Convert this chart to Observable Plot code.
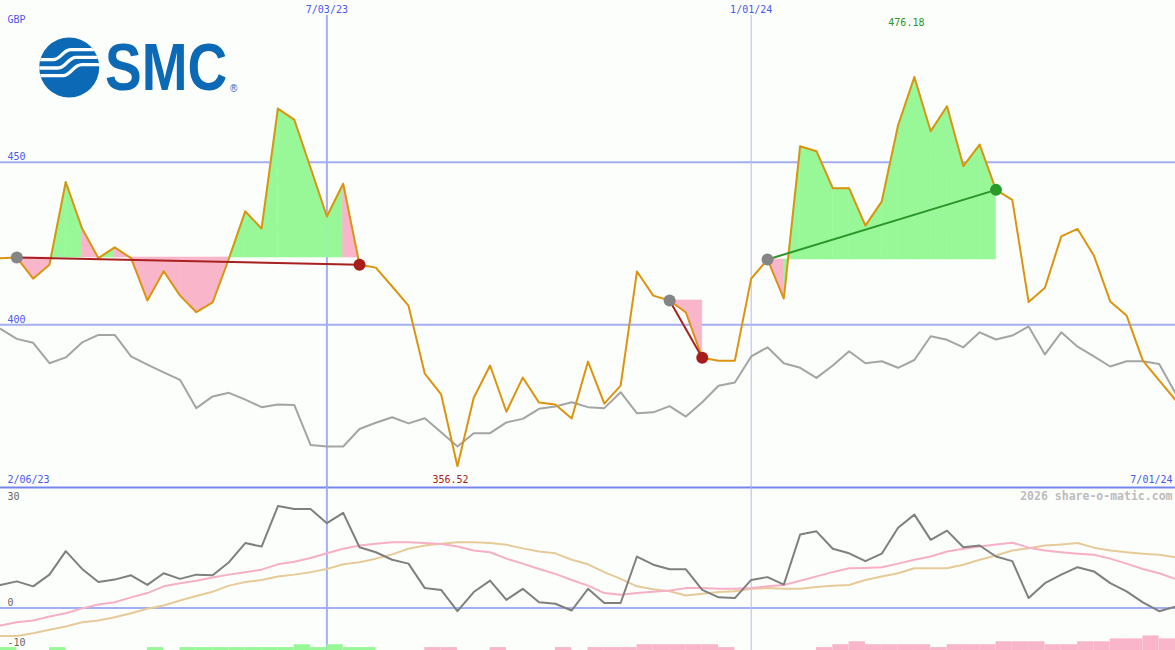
<!DOCTYPE html>
<html><head><meta charset="utf-8">
<script src="https://cdn.jsdelivr.net/npm/d3@7"></script>
<script src="https://cdn.jsdelivr.net/npm/@observablehq/plot@0.6"></script>
<style>
html,body{margin:0;padding:0;background:#fcfefc;}
#chart{position:relative;width:1175px;height:650px;overflow:hidden;background:#fcfefc;}
#chart svg.plot{display:block;}
#logo{position:absolute;left:30px;top:30px;}
</style></head><body>
<div id="chart"></div>
<script>
// ---- data (weekly closes) ----
const firstWeek = [2023, 1, 13]; // year, month index, day
const price = [
  420.5, 420.7, 414.2, 418.5, 443.9, 429.6, 420.5, 423.8, 420.5, 407.5,
  416.5, 409.0, 403.9, 406.9, 420.4, 434.9, 429.6, 466.5, 463.1, 448.3,
  433.3, 443.4, 418.5, 417.6, 411.8, 405.9, 385.0, 378.6, 356.52, 377.6,
  387.5, 373.3, 383.8, 376.1, 375.5, 371.2, 388.7, 375.8, 381.3, 416.4,
  409.0, 407.5, 403.8, 389.9, 389.0, 389.0, 414.2, 420.1, 408.1, 454.9,
  453.4, 442.0, 442.0, 430.5, 437.9, 461.3, 476.18, 459.5, 467.2, 448.8,
  455.4, 441.5, 438.4, 407.0, 411.4, 427.2, 429.5, 421.3, 407.2, 402.9,
  389.0, 382.9, 376.9
];
const benchmark = [
  398.8, 395.7, 394.5, 388.2, 390.0, 394.6, 396.9, 396.9, 390.3, 387.8,
  385.4, 383.1, 374.4, 378.0, 379.1, 377.0, 374.7, 375.5, 375.4, 363.1,
  362.6, 362.6, 368.0, 369.9, 371.6, 369.7, 371.3, 367.0, 362.6, 366.7,
  366.7, 370.0, 371.1, 374.2, 374.9, 376.2, 374.7, 374.4, 379.3, 372.8,
  373.1, 375.0, 371.8, 376.2, 381.3, 382.3, 390.3, 393.1, 388.2, 386.8,
  383.7, 387.5, 391.9, 388.2, 388.8, 386.8, 389.2, 396.5, 395.4, 393.1,
  397.7, 395.5, 396.7, 399.5, 390.9, 397.7, 393.3, 390.3, 387.2, 388.8,
  388.8, 388.0, 379.0
];
const momentum = [
  6.5, 7.5, 6.1, 9.4, 16.0, 11.0, 7.3, 8.0, 9.2, 6.5,
  9.8, 8.2, 9.4, 9.2, 12.9, 18.3, 17.3, 28.7, 27.9, 27.9,
  23.9, 26.8, 17.1, 15.7, 13.6, 12.5, 5.6, 5.1, -0.9, 4.5,
  7.7, 2.3, 5.4, 1.6, 1.2, -0.7, 5.4, 1.4, 1.4, 14.5,
  12.2, 10.9, 10.9, 5.1, 3.0, 2.8, 7.9, 8.7, 6.6, 20.7,
  21.6, 16.7, 15.4, 13.2, 15.3, 22.6, 26.3, 19.2, 21.8, 17.1,
  17.6, 14.5, 13.2, 2.8, 7.0, 9.4, 11.5, 10.3, 7.0, 4.7,
  1.6, -0.9, 0.4
];
const avgFast = [
  -4.9, -4.0, -3.5, -2.4, -1.5, -0.1, 1.0, 1.6, 3.0, 4.2,
  6.1, 7.0, 7.7, 8.6, 9.4, 10.1, 10.8, 12.3, 13.0, 14.1,
  15.4, 16.7, 17.6, 18.1, 18.5, 18.5, 18.3, 18.0, 17.3, 16.2,
  15.7, 13.9, 12.5, 11.0, 9.6, 7.9, 6.3, 4.2, 3.7, 4.2,
  4.6, 4.9, 5.6, 5.6, 5.4, 5.4, 5.6, 6.1, 6.5, 7.7,
  8.9, 10.1, 11.2, 11.3, 11.5, 12.5, 13.6, 14.5, 15.9, 16.7,
  17.3, 17.9, 18.4, 17.0, 16.2, 15.7, 15.3, 15.0, 13.9, 12.5,
  11.0, 9.8, 8.2
];
const avgSlow = [
  -7.9, -7.9, -7.1, -6.1, -5.2, -4.0, -3.5, -2.6, -1.5, -0.2,
  0.7, 2.1, 3.4, 4.6, 6.3, 7.3, 7.9, 8.9, 9.4, 10.1,
  11.0, 12.3, 12.9, 13.9, 15.1, 16.7, 17.6, 18.1, 18.5, 18.5,
  18.3, 17.8, 16.8, 15.9, 15.4, 13.6, 12.3, 10.1, 8.2, 6.1,
  5.3, 4.7, 3.5, 4.0, 4.5, 4.7, 5.4, 5.6, 5.4, 5.4,
  5.9, 6.3, 6.5, 7.9, 8.9, 9.8, 11.2, 11.2, 11.2, 12.2,
  13.6, 14.8, 16.2, 16.8, 17.6, 17.9, 18.3, 17.0, 16.2, 15.7,
  15.3, 15.0, 14.3
];
// signal strength per week interval (positive = green, negative = pink)
const signal = [
  1, 0, 0, 1, 0, 0, 0, 0, 0, 1,
  0, 1, 1, 1, 1, 1, 1, 1, 2, 1,
  2, 1, 1, 0, 0, 0, -1, -1, 0, 0,
  -1, 0, 0, 0, -1, 0, -1, -1, -1, -2,
  -2, -2, -2, -2, -1, 0, 0, 0, 0, 0,
  -1, -2, -3, -2, -2, -2, -2, -1, -2, -2,
  -2, -3, -3, -3, -2, -2, -3, -3, -4, -4,
  -5, -4
];
// trades: entry / exit week index
const tradeEntry = [1, 41, 47];
const tradeExit = [22, 43, 61];
const gridPrices = [400, 450];
const markerDates = ["2023-07-03", "2024-01-01"];
const markerLabels = ["7/03/23", "1/01/24"];
const rangeLabels = ["2/06/23", "7/01/24"];
const panelTicks = [30, 0, -10];
const currency = "GBP";
const credit = "2026 share-o-matic.com";

// ---- derived tables ----
const t0 = Date.UTC(firstWeek[0], firstWeek[1], firstWeek[2]);
const dates = price.map((_, i) => new Date(t0 + i * 7 * 864e5));
const rows = price.map((p, i) => ({date: dates[i], price: p, bench: benchmark[i], mom: momentum[i], fast: avgFast[i], slow: avgSlow[i]}));
const markers = markerDates.map((d, i) => ({date: new Date(d + "T00:00:00Z"), label: markerLabels[i]}));

const trades = tradeEntry.map((s, k) => {
  const e = tradeExit[k];
  return {d1: dates[s], p1: price[s], d2: dates[e], p2: price[e], s, e, win: price[e] >= price[s]};
});
const fillGreen = [], fillPink = [];
trades.forEach((t, k) => {
  for (let i = t.s; i < t.e; i++) {
    const seg = k + "-" + i;
    const target = price[i + 1] >= t.p1 ? fillGreen : fillPink;
    target.push({seg, date: dates[i], base: t.p1, price: price[i]});
    target.push({seg, date: dates[i + 1], base: t.p1, price: price[i + 1]});
  }
});
const hiIdx = d3.maxIndex(price), loIdx = d3.minIndex(price);
const hiRow = [{date: dates[hiIdx], price: price[hiIdx]}];
const loRow = [{date: dates[loIdx], price: price[loIdx]}];

const xDomain = [dates[0], dates[dates.length - 1]];
const font = "DejaVu Sans Mono";
const blueText = "#4a58ee";
const svgStyle = {background: "transparent", overflow: "visible", fontFamily: font, fontSize: "10px"};
const txt = {fontSize: 10, lineAnchor: "middle"};

const main = Plot.plot({
  width: 1175, height: 487, margin: 0,
  x: {type: "utc", domain: xDomain, axis: null},
  y: {domain: [350, 499.72], axis: null},
  style: svgStyle,
  marks: [
    Plot.ruleY(gridPrices, {stroke: "#a4aef2", strokeWidth: 2}),
    Plot.ruleX(markers.slice(0, 1), {x: "date", stroke: "#a4aef2", strokeWidth: 2, insetTop: 15}),
    Plot.ruleX(markers.slice(1), {x: "date", stroke: "#b4bcf2", strokeWidth: 1, insetTop: 15}),
    Plot.areaY(fillGreen, {x: "date", y1: "base", y2: "price", z: "seg", fill: "#98f898", stroke: "#98f898", strokeWidth: 0.6}),
    Plot.areaY(fillPink, {x: "date", y1: "base", y2: "price", z: "seg", fill: "#f9b6ca", stroke: "#f9b6ca", strokeWidth: 0.6}),
    Plot.line(rows, {x: "date", y: "bench", stroke: "#a4a4a4", strokeWidth: 2}),
    Plot.line(rows, {x: "date", y: "price", stroke: "#dc9410", strokeWidth: 2}),
    Plot.link(trades.filter(t => !t.win), {x1: "d1", y1: "p1", x2: "d2", y2: "p2", stroke: "#a82020", strokeWidth: 2}),
    Plot.link(trades.filter(t => t.win), {x1: "d1", y1: "p1", x2: "d2", y2: "p2", stroke: "#2a962a", strokeWidth: 2}),
    Plot.dot(trades, {x: "d1", y: "p1", r: 6, fill: "#858585"}),
    Plot.dot(trades.filter(t => !t.win), {x: "d2", y: "p2", r: 6, fill: "#a81c1c"}),
    Plot.dot(trades.filter(t => t.win), {x: "d2", y: "p2", r: 6, fill: "#2a9a2a"}),
    Plot.text([currency], {...txt, frameAnchor: "top-left", dx: 7, dy: 19, textAnchor: "start", fill: blueText}),
    Plot.text(gridPrices, {...txt, y: d => d, text: d => String(d), frameAnchor: "left", dx: 7, dy: -5, textAnchor: "start", fill: blueText}),
    Plot.text(markers, {...txt, x: "date", text: "label", frameAnchor: "top", dy: 9, fill: blueText}),
    Plot.text(hiRow, {...txt, x: "date", text: d => d.price.toFixed(2), frameAnchor: "top", dy: 22, dx: -8, fill: "#2a962a"}),
    Plot.text(loRow, {...txt, x: "date", text: d => d.price.toFixed(2), frameAnchor: "bottom", dy: -8, dx: -7, fill: "#a82020"}),
    Plot.text(rangeLabels.slice(0, 1), {...txt, frameAnchor: "bottom-left", dx: 7, dy: -8, textAnchor: "start", fill: blueText}),
    Plot.text(rangeLabels.slice(1), {...txt, frameAnchor: "bottom-right", dx: -3, dy: -8, textAnchor: "end", fill: blueText}),
    Plot.ruleY([350], {stroke: "#7684ee", strokeWidth: 2})
  ]
});

const yLow = -11.97, yHigh = 33.94, barStep = 0.82;
const bars = signal.map((v, i) => ({x1: dates[i], x2: dates[i + 1], lvl: v}))
  .filter(d => d.lvl !== 0)
  .map(d => ({...d, y1: yLow, y2: yLow + Math.abs(d.lvl) * barStep}));

const lower = Plot.plot({
  width: 1175, height: 163, margin: 0,
  x: {type: "utc", domain: xDomain, axis: null},
  y: {domain: [yLow, yHigh], axis: null},
  style: svgStyle,
  marks: [
    Plot.ruleY([0], {stroke: "#a4aef2", strokeWidth: 2}),
    Plot.ruleX(markers.slice(0, 1), {x: "date", stroke: "#a4aef2", strokeWidth: 2}),
    Plot.ruleX(markers.slice(1), {x: "date", stroke: "#b4bcf2", strokeWidth: 1}),
    Plot.rect(bars.filter(d => d.lvl > 0), {x1: "x1", x2: "x2", y1: "y1", y2: "y2", fill: "#98f898"}),
    Plot.rect(bars.filter(d => d.lvl < 0), {x1: "x1", x2: "x2", y1: "y1", y2: "y2", fill: "#f9b6ca"}),
    Plot.line(rows, {x: "date", y: "slow", stroke: "#e6cb98", strokeWidth: 2}),
    Plot.line(rows, {x: "date", y: "fast", stroke: "#f7afc6", strokeWidth: 2}),
    Plot.line(rows, {x: "date", y: "mom", stroke: "#7f7f7f", strokeWidth: 2}),
    Plot.text(panelTicks.filter(d => d >= 0), {...txt, y: d => d, text: d => String(d), frameAnchor: "left", dx: 7, dy: -5, textAnchor: "start", fill: "#666"}),
    Plot.text(panelTicks.filter(d => d < 0), {...txt, y: d => d, text: d => String(d), frameAnchor: "left", dx: 7, dy: -1, textAnchor: "start", fill: "#666"}),
    Plot.text([credit], {...txt, frameAnchor: "top-right", dx: -3, dy: 9, textAnchor: "end", fill: "#bcbcbc", fontSize: 11.5, fontWeight: "bold"})
  ]
});

const chart = document.getElementById("chart");
chart.appendChild(main);
chart.appendChild(lower);

// SMC logo (decorative)
chart.insertAdjacentHTML("beforeend", `
<svg id="logo" width="240" height="75" viewBox="0 0 240 75">
  <defs><clipPath id="logoclip"><circle cx="39.2" cy="37.5" r="30"/></clipPath></defs>
  <circle cx="39.2" cy="37.5" r="30" fill="#0b69b5"/>
  <g clip-path="url(#logoclip)" stroke="#fcfefc" stroke-width="3.3" fill="none">
    <path d="M0 29.7 H23 C31 29.7 33 19.7 41 19.7 H75"/>
    <path d="M0 38 H28 C36 38 38 27.3 46 27.3 H75"/>
    <path d="M0 45.7 H33 C41 45.7 43 34.7 52 34.7 H75"/>
  </g>
  <text transform="translate(75,60) scale(1,1.2)" font-family="Liberation Sans" font-weight="bold" font-size="55" fill="#0b69b5">SMC</text>
  <text x="200" y="62" font-family="Liberation Sans" font-size="10" fill="#0b69b5">®</text>
</svg>`);
</script>
</body></html>
